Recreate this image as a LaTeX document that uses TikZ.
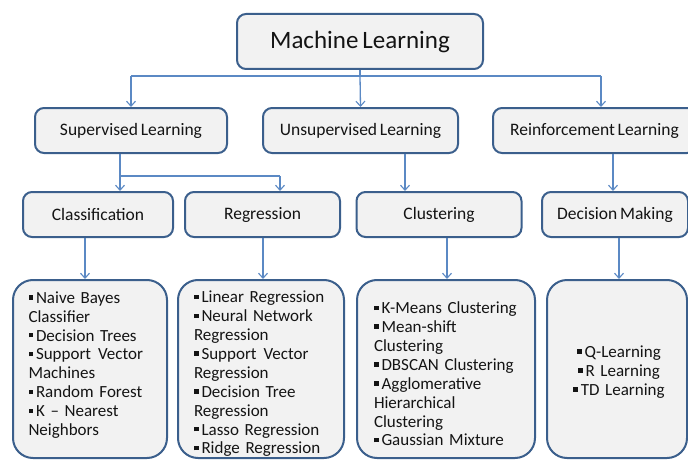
\documentclass[tikz,border=0pt]{standalone}
\usepackage{fontspec}
\setmainfont[WordSpace={0.7,0,0}]{Carlito}
\usetikzlibrary{arrows.meta}
\definecolor{boxline}{HTML}{3B5F8C}
\definecolor{boxfill}{HTML}{F2F2F2}
\definecolor{conn}{HTML}{5B89C4}
\definecolor{txt}{HTML}{141414}
\newcommand{\bul}{\rule[3.6pt]{4.5pt}{4.5pt}\hspace{3pt}}
\tikzset{
  topbox/.style={draw=boxline, fill=boxfill, line width=2pt, rounded corners=9pt,
    text=txt, inner sep=0pt, font=\fontsize{17.5}{20}\selectfont},
  listbox/.style={draw=boxline, fill=boxfill, line width=2pt, rounded corners=20pt,
    inner sep=0pt, minimum height=178},
  listtext/.style={text=txt, inner sep=0pt, align=left,
    font=\fontsize{17}{18.9}\selectfont},
  link/.style={draw=conn, line width=1.3pt},
  arr/.style={link, -{Straight Barb[length=5pt,width=9pt,line width=1.1pt]}}
}
\begin{document}
\begin{tikzpicture}[x=1pt,y=-1pt]
\useasboundingbox (0,0) rectangle (688,460);
\clip (0,0) rectangle (688,460);
% level 0
\node[topbox, minimum width=246, minimum height=55, font=\fontsize{25}{28}\selectfont] (ml) at (360,41.5) {Machine Learning};
% level 1
\node[topbox, minimum width=192, minimum height=45] (sl) at (131,130.5) {Supervised Learning};
\node[topbox, minimum width=195, minimum height=45] (ul) at (360.5,130.5) {Unsupervised Learning};
\node[topbox, minimum width=203, minimum height=45] (rl) at (594.5,130.5) {Reinforcement Learning};
% level 2
\node[topbox, minimum width=150, minimum height=45] (cl) at (98,214.5) {Classification};
\node[topbox, minimum width=155, minimum height=45] (rg) at (262.5,214.5) {Regression};
\node[topbox, minimum width=165, minimum height=45] (cu) at (439,214.5) {Clustering};
\node[topbox, minimum width=146, minimum height=45] (dm) at (615,214.5) {Decision Making};
% level 3 boxes
\node[listbox, minimum width=154] (b1) at (90,369) {};
\node[listbox, minimum width=166] (b2) at (261,369) {};
\node[listbox, minimum width=178] (b3) at (446,369) {};
\node[listbox, minimum width=140] (b4) at (617,369) {};
% level 3 texts
\node[listtext, text width=122] (t1) at ([xshift=-0.5pt,yshift=4pt]b1.center) {%
\bul Naive Bayes\\Classifier\\\bul Decision Trees\\\bul Support\hspace{7pt}Vector\\Machines\\\bul Random Forest\\\bul K -- Nearest\\Neighbors};
\node[listtext, text width=134] (t2) at ([yshift=-5pt]b2.center) {%
\bul Linear Regression\\\bul Neural Network\\Regression\\\bul Support\hspace{7pt}Vector\\Regression\\\bul Decision Tree\\Regression\\\bul Lasso Regression\\\bul Ridge Regression};
\node[listtext, text width=144] (t3) at ([yshift=-5pt]b3.center) {%
\bul K-Means Clustering\\\bul Mean-shift\\Clustering\\\bul DBSCAN Clustering\\\bul Agglomerative\\Hierarchical\\Clustering\\\bul Gaussian Mixture};
\node[listtext, text width=108, align=center] (t4) at ([xshift=2pt,yshift=-3pt]b4.center) {%
\bul Q-Learning\\\bul R Learning\\\bul TD Learning};
% connectors level 0 -> 1
\coordinate (ja) at (131,76);
\coordinate (jm) at (360,76);
\coordinate (jb) at (601,76);
\draw[link] (ml.south) -- (jm);
\draw[link] (ja) -- (jb);
\draw[arr] (ja) -- (sl.north);
\draw[arr] (jm) -- (ul.north);
\draw[arr] (jb) -- ([xshift=6.5pt]rl.north);
% level 1 -> 2
\coordinate (jc) at (120,176);
\coordinate (jd) at (280,176);
\draw[link] ([xshift=-11pt]sl.south) -- (jc);
\draw[link] (jc) -- (jd);
\draw[arr] (jc) -- ([xshift=22pt]cl.north);
\draw[arr] (jd) -- ([xshift=17.5pt]rg.north);
\draw[arr] ([xshift=44.5pt]ul.south) -- ([xshift=-34pt]cu.north);
\draw[arr] ([xshift=18.5pt]rl.south) -- ([xshift=-2pt]dm.north);
% level 2 -> 3
\draw[arr] ([xshift=-13pt]cl.south) -- ([xshift=-5pt]b1.north);
\draw[arr] ([xshift=0.5pt]rg.south) -- ([xshift=2pt]b2.north);
\draw[arr] ([xshift=8pt]cu.south) -- ([xshift=1pt]b3.north);
\draw[arr] ([xshift=4pt]dm.south) -- ([xshift=2pt]b4.north);
\end{tikzpicture}
\end{document}
